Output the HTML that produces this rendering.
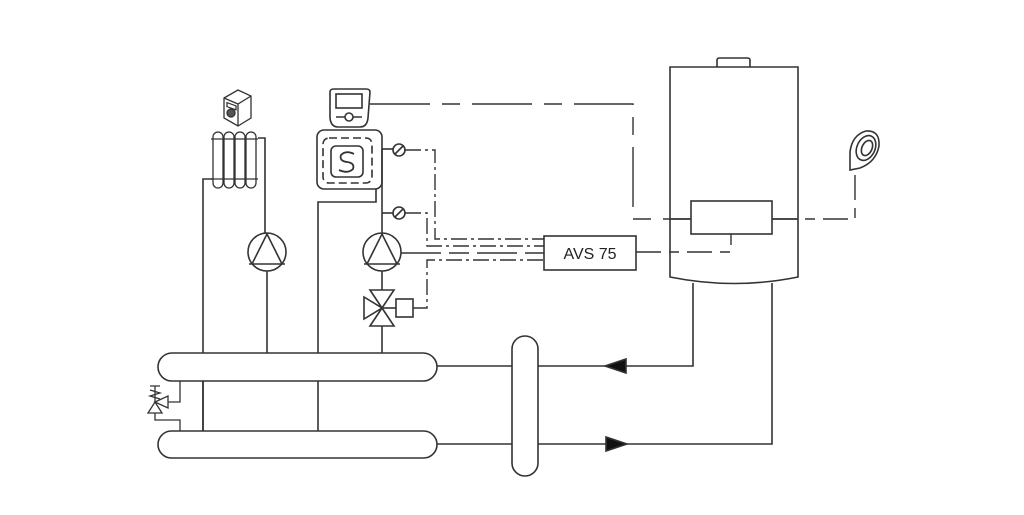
<!DOCTYPE html>
<html><head><meta charset="utf-8"><style>
html,body{margin:0;padding:0;background:#fff;width:1024px;height:515px;overflow:hidden}
svg{display:block}
</style></head><body>
<svg width="1024" height="515" viewBox="0 0 1024 515" xmlns="http://www.w3.org/2000/svg" fill="none" stroke="#333" stroke-width="1.6">
<!-- room unit -->
<g stroke-width="1.3">
<path d="M224 98 L238 90 L251 96 L251 118 L238 126 L224 118 Z" fill="#fff"/>
<path d="M224 98 L238 104 L251 96 M238 104 L238 126"/>
<rect x="227" y="102" width="9" height="4" transform="skewY(20) translate(0,-82)"/>
<circle cx="231" cy="113" r="4" fill="#555"/>
</g>
<!-- radiator -->
<g stroke-width="1.3">
<rect x="213" y="132" width="10" height="56" rx="5"/>
<rect x="224" y="132" width="10" height="56" rx="5"/>
<rect x="235" y="132" width="10" height="56" rx="5"/>
<rect x="246" y="132" width="10" height="56" rx="5"/>
<line x1="211" y1="139" x2="258" y2="139"/>
<line x1="211" y1="179" x2="258" y2="179"/>
</g>
<polyline points="258,138 265,138 265,233"/>
<polyline points="213,179 203,179 203,431"/>
<circle cx="267" cy="252" r="19"/>
<path d="M252 264 L267 234 L282 264 M249 264 L285 264"/>
<line x1="267" y1="271" x2="267" y2="353"/>
<!-- controller -->
<path d="M330 92 Q330 89 334 89 L366 89 Q370 89 370 92 L368 118 Q367 127 360 127 L338 127 Q331 127 330 118 Z"/>
<rect x="336" y="94" width="26" height="14"/>
<ellipse cx="349" cy="117" rx="4" ry="4"/>
<path d="M336 117 L345 117 M353 117 L362 117"/>
<!-- floor heating -->
<rect x="317" y="130" width="65" height="59" rx="7"/>
<rect x="323" y="138" width="49" height="45" rx="6" stroke-dasharray="8 4"/>
<rect x="331" y="146" width="32" height="31" rx="5"/>
<path d="M354 154 Q346 150 341 155 Q339 161 347 162 Q355 163 353 169 Q348 174 339 170" stroke-width="1.8"/>
<polyline points="376,189 376,202 318,202 318,353"/>
<polyline points="382,149 382,233"/>
<line x1="382" y1="149" x2="393" y2="149"/>
<circle cx="399" cy="150" r="6"/><line x1="395" y1="154" x2="403" y2="146"/>
<line x1="382" y1="213" x2="393" y2="213"/>
<circle cx="399" cy="213" r="6"/><line x1="395" y1="217" x2="403" y2="209"/>
<circle cx="382" cy="252" r="19"/>
<path d="M367 264 L382 234 L397 264 M364 264 L400 264"/>
<line x1="382" y1="271" x2="382" y2="290"/>
<path d="M370 290 L394 290 L382 308 Z M370 326 L394 326 L382 308 Z M364 297 L364 319 L382 308 Z"/>
<line x1="382" y1="308" x2="396" y2="308"/>
<rect x="396" y="299" width="17" height="18"/>
<line x1="382" y1="326" x2="382" y2="353"/>
<!-- control lines -->
<g stroke-width="1.4">
<polyline points="405,150 435,150 435,239 544,239" stroke-dasharray="16 4 3 4"/>
<polyline points="405,213 427,213 427,246 544,246" stroke-dasharray="16 4 3 4"/>
<polyline points="401,253 544,253" stroke-dasharray="40 8 20 8"/>
<polyline points="413,308 427,308 427,260 544,260" stroke-dasharray="16 4 3 4"/>
<polyline points="370,104 633,104 633,219 691,219" stroke-dasharray="60 12 18 12"/>
<polyline points="772,219 855,219 855,172" stroke-dasharray="25 8 10 8"/>
<polyline points="636,252 731,252 731,234" stroke-dasharray="25 8 10 8"/>
</g>
<!-- AVS -->
<rect x="544" y="236" width="92" height="34" fill="#fff"/>
<text x="590" y="259" font-family="Liberation Sans, sans-serif" font-size="16" fill="#222" stroke="none" text-anchor="middle">AVS 75</text>
<!-- boiler -->
<path d="M717 67 L717 60 Q717 58 720 58 L747 58 Q750 58 750 60 L750 67"/>
<path d="M670 67 L798 67 L798 277 Q734 290 670 277 Z"/>
<rect x="691" y="201" width="81" height="33" fill="#fff"/>
<line x1="670" y1="219" x2="691" y2="219"/>
<line x1="772" y1="219" x2="798" y2="219"/>
<!-- sensor -->
<path d="M850 152 Q852 135 866 131 Q880 130 879 146 Q876 162 860 168 L850 170 Z" fill="#fff"/>
<ellipse cx="866" cy="148" rx="9" ry="13" transform="rotate(25 866 148)"/>
<ellipse cx="867" cy="148" rx="5" ry="8" transform="rotate(25 867 148)"/>
<!-- boiler pipes -->
<polyline points="693,283 693,366 538,366"/>
<polyline points="772,283 772,444 538,444"/>
<path d="M605 366 L626 359 L626 373 Z" fill="#111"/>
<path d="M627 444 L606 437 L606 451 Z" fill="#111"/>
<!-- separator -->
<rect x="512" y="336" width="26" height="140" rx="13" fill="#fff"/>
<line x1="437" y1="366" x2="512" y2="366"/>
<line x1="437" y1="444" x2="512" y2="444"/>
<!-- headers -->
<rect x="158" y="353" width="279" height="28" rx="14" fill="#fff"/>
<rect x="158" y="431" width="279" height="27" rx="13.5" fill="#fff"/>
<line x1="203" y1="381" x2="203" y2="431"/>
<line x1="318" y1="381" x2="318" y2="431"/>
<!-- safety valve -->
<g stroke-width="1.3">
<polyline points="180,381 180,402 168,402"/>
<path d="M168 396 L168 408 L155 402 Z"/>
<path d="M148 413 L162 413 L155 402 Z"/>
<path d="M150 386 L160 386 M155 386 L155 402 M150 390 L160 393 L150 396 L160 399"/>
<polyline points="155,413 155,420 180,420 180,431"/>
</g>
</svg>
</body></html>
